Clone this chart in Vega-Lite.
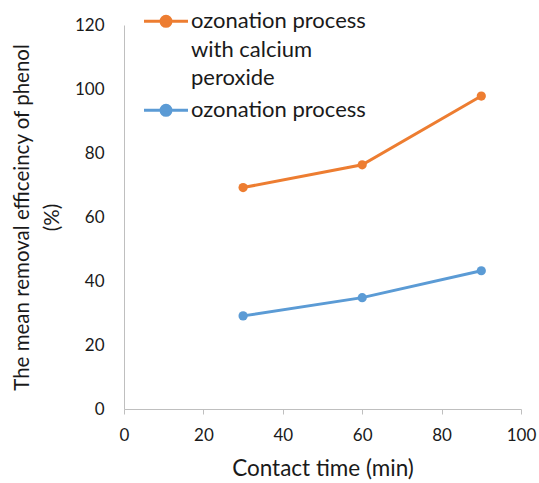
{
  "$schema": "https://vega.github.io/schema/vega-lite/v6.json",
  "autosize": {"type": "none"},
  "padding": {"left": 124, "top": 25, "right": 18, "bottom": 74},
  "width": 397,
  "height": 384,
  "background": "white",
  "config": {
    "view": {"stroke": null},
    "font": "Lato",
    "axis": {"grid": false, "domainColor": "#bfbfbf", "tickColor": "#bfbfbf", "labelColor": "#1a1a1a", "titleColor": "#1a1a1a", "labelFont": "Lato", "titleFont": "Lato", "titleFontWeight": "normal", "labelFlush": false}
  },
  "data": {
    "values": [
      {"time": 30, "removal": 69.2, "process": "ozonation process with calcium peroxide"},
      {"time": 60, "removal": 76.3, "process": "ozonation process with calcium peroxide"},
      {"time": 90, "removal": 97.8, "process": "ozonation process with calcium peroxide"},
      {"time": 30, "removal": 29.1, "process": "ozonation process"},
      {"time": 60, "removal": 34.8, "process": "ozonation process"},
      {"time": 90, "removal": 43.2, "process": "ozonation process"}
    ]
  },
  "layer": [
    {
      "mark": {"type": "line", "strokeWidth": 3},
      "encoding": {
        "x": {"field": "time", "type": "quantitative", "scale": {"domain": [0, 100], "nice": false},
          "axis": {"values": [0, 20, 40, 60, 80, 100], "tickSize": 5, "labelFontSize": 17, "labelPadding": 13, "title": "Contact time (min)", "titleFontSize": 22.5, "titlePadding": 14}},
        "y": {"field": "removal", "type": "quantitative", "scale": {"domain": [0, 120], "nice": false},
          "axis": {"values": [0, 20, 40, 60, 80, 100, 120], "ticks": false, "labelFontSize": 17, "labelPadding": 20, "title": ["The mean removal efficeincy of phenol", "(%)"], "titleFontSize": 20.5, "titleLineHeight": 30, "titlePadding": 12}},
        "color": {"field": "process", "type": "nominal",
          "scale": {"domain": ["ozonation process with calcium peroxide", "ozonation process"], "range": ["#ED7D31", "#5B9BD5"]},
          "legend": {
            "orient": "none", "legendX": 31, "legendY": -25, "padding": 0,
            "title": null,
            "symbolType": "M-4.4,2.06L4.4,2.06M-1,2.06A1,1 0 1,1 1,2.06A1,1 0 1,1 -1,2.06Z",
            "symbolSize": 100, "symbolStrokeWidth": 3,
            "labelFont": "Lato", "labelFontSize": 22, "labelColor": "#1a1a1a", "labelLimit": 400, "labelOffset": 14,
            "labelBaseline": "top",
            "labelExpr": "datum.label == 'ozonation process with calcium peroxide' ? ['ozonation process', 'with calcium', 'peroxide'] : datum.label",
            "rowPadding": 0,
            "encoding": {"labels": {"lineHeight": {"value": 28.5}}}
          }}
      }
    },
    {
      "mark": {"type": "point", "filled": true, "size": 85, "opacity": 1},
      "encoding": {
        "x": {"field": "time", "type": "quantitative"},
        "y": {"field": "removal", "type": "quantitative"},
        "color": {"field": "process", "type": "nominal", "legend": null}
      }
    }
  ]
}
